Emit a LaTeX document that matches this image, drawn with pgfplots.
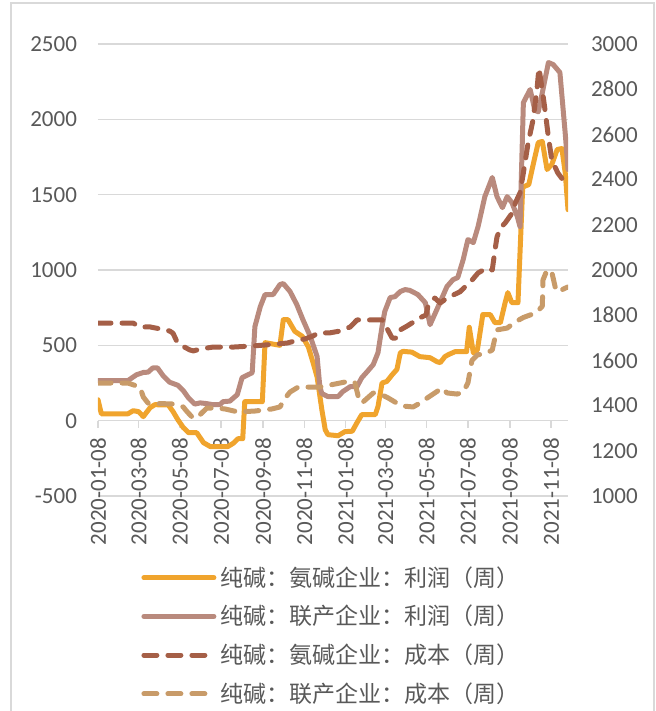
\documentclass[border=0pt]{standalone}
\usepackage{pgfplots}
\pgfplotsset{compat=1.18}
\usepackage{fontspec}
\setmainfont{Carlito}
\newfontfamily\cjk{Noto Sans CJK SC}

\definecolor{ammprofit}{HTML}{F0A42D}
\definecolor{coprofit}{HTML}{B98A7D}
\definecolor{ammcost}{HTML}{A55F47}
\definecolor{cocost}{HTML}{C89B69}
\definecolor{gridgray}{HTML}{D9D9D9}
\definecolor{labelgray}{HTML}{595959}

% x = days since 2020-01-08
\pgfplotsset{
  base/.style={
    scale only axis, width=235pt, height=226pt,
    xmin=0, xmax=695,
    tick label style={font=\fontsize{11.5}{13}\selectfont, text=labelgray},
    /pgf/number format/assume math mode=true,
    /pgf/number format/1000 sep={},
  },
  sline/.style={line width=2.5pt, line join=round, line cap=round},
  dline/.style={line width=2.5pt, line join=round, line cap=round, dash pattern=on 6.5pt off 5.5pt},
}

\begin{document}
\begin{tikzpicture}
\path[use as bounding box] (-49pt,-107.5pt) rectangle (279pt,248pt);
\draw[gridgray, line width=0.8pt] (-43.5pt,-120pt) -- (-43.5pt,246.5pt) -- (278pt,246.5pt) -- (278pt,-120pt);

\begin{axis}[base,
  ymin=-500, ymax=2500, ytick={-500,0,...,2500},
  axis x line*=middle, axis y line*=left,
  hide obscured x ticks=false,
  y axis line style={draw=none}, ytick style={draw=none},
  x axis line style={-, draw=gridgray, line width=0.75pt},
  ymajorgrids, grid style={gridgray, line width=0.75pt},
  xtick={0,60,121,182,244,305,366,425,486,547,609,670},
  xticklabels={2020-01-08,2020-03-08,2020-05-08,2020-07-08,2020-09-08,2020-11-08,
    2021-01-08,2021-03-08,2021-05-08,2021-07-08,2021-09-08,2021-11-08},
  xtick align=outside, major tick length=3.5pt,
  xtick style={draw=gridgray, line width=0.75pt},
  xticklabel style={rotate=90, anchor=east},
  xticklabel shift=1.5pt,
  yticklabel style={anchor=east, xshift=-7pt},
]
\addplot[sline, ammprofit] coordinates {
(0,139) (5,45) (44,45) (52,66) (60,60) (67,27) (77,86) (84,106) (104,104) (111,60)
(118,7) (126,-45) (134,-80) (146,-80) (156,-146) (166,-172) (192,-172) (200,-150)
(207,-120) (214,-120) (217,126) (243,126) (247,518) (269,500) (274,670) (281,670)
(291,593) (302,560) (311,490) (318,385) (324,290) (331,73) (336,-60) (340,-93)
(355,-100) (365,-73) (376,-70) (383,-13) (390,40) (410,40) (414,93) (420,250)
(427,260) (435,305) (442,340) (447,450) (451,460) (464,455) (476,425) (491,418)
(501,392) (506,385) (513,425) (518,438) (528,458) (545,458) (549,620) (555,450)
(561,470) (569,704) (580,704) (587,650) (595,650) (602,783) (606,850) (612,783)
(621,783) (628,1550) (637,1567) (643,1690) (651,1846) (657,1853) (664,1667)
(671,1700) (679,1800) (686,1806) (691,1640) (695,1400)
};
\addplot[sline, coprofit] coordinates {
(0,265) (44,265) (57,305) (67,320) (74,322) (81,350) (88,350) (96,300) (106,255)
(118,235) (126,200) (134,150) (143,110) (151,118) (161,113) (170,106) (180,106)
(185,126) (195,130) (206,173) (213,285) (222,305) (228,318) (232,624) (240,757)
(247,837) (259,837) (269,903) (274,910) (284,857) (294,770) (303,670) (314,558)
(324,425) (328,226) (331,180) (340,160) (355,160) (362,193) (373,226) (383,226)
(390,285) (398,325) (407,372) (414,451) (420,624) (424,724) (432,817) (439,823)
(447,857) (454,870) (461,865) (473,837) (484,783) (491,637) (501,737) (516,890)
(525,936) (532,950) (540,1069) (547,1202) (555,1182) (562,1288) (572,1487)
(583,1614) (590,1487) (598,1414) (605,1487) (612,1448) (620,1355) (624,1288)
(629,2111) (639,2198) (646,2060) (651,2050) (658,2198) (666,2377) (673,2364)
(683,2311) (691,1900) (695,1667)
};
\end{axis}

\begin{axis}[base,
  ymin=1000, ymax=3000, ytick={1000,1200,...,3000},
  axis y line*=right, axis x line=none,
  y axis line style={draw=none}, ytick style={draw=none},
  yticklabel style={anchor=west, xshift=8pt},
  legend cell align=left,
  legend image code/.code={\draw[#1] (0pt,0pt) -- (35pt,0pt);},
  legend style={at={(axis description cs:0.0915,0)}, anchor=north west,
    yshift=-33pt, draw=none, fill=none, inner sep=0pt, row sep=4pt,
    font=\cjk\fontsize{11.5}{13}\selectfont, text=labelgray},
]
\addlegendimage{sline, ammprofit}
\addlegendentry{纯碱：氨碱企业：利润（周）}
\addlegendimage{sline, coprofit}
\addlegendentry{纯碱：联产企业：利润（周）}
\addplot[dline, ammcost] coordinates {
(0,1765) (52,1765) (62,1748) (77,1748) (96,1737) (106,1730) (111,1720) (117,1681)
(124,1665) (136,1646) (141,1642) (151,1650) (170,1659) (200,1659) (229,1664)
(259,1671) (280,1677) (291,1686) (306,1695) (318,1708) (325,1721) (343,1722)
(358,1730) (373,1748) (383,1779) (420,1779) (424,1770) (427,1743) (435,1699)
(442,1699) (447,1735) (457,1752) (476,1788) (485,1801) (488,1840) (498,1876)
(506,1854) (516,1876) (525,1889) (535,1903) (546,1935) (553,1955) (562,1987)
(575,2009) (583,2000) (587,2088) (590,2146) (595,2186) (602,2208) (612,2250)
(617,2296) (624,2341) (629,2430) (636,2562) (643,2660) (649,2796) (652,2894)
(657,2796) (661,2708) (666,2588) (671,2487) (680,2429) (691,2385)
};
\addlegendentry{纯碱：氨碱企业：成本（周）}
\addplot[dline, cocost] coordinates {
(0,1500) (44,1500) (62,1482) (67,1438) (74,1411) (111,1407) (121,1398) (126,1394)
(132,1372) (139,1350) (146,1345) (155,1372) (161,1389) (176,1389) (188,1385)
(207,1372) (232,1376) (257,1385) (269,1394) (277,1434) (284,1460) (296,1482)
(328,1482) (343,1491) (358,1500) (373,1509) (380,1500) (385,1438) (390,1411)
(407,1456) (420,1447) (429,1434) (439,1416) (451,1398) (466,1394) (476,1411)
(487,1434) (498,1456) (509,1478) (516,1456) (531,1451) (540,1460) (547,1500)
(553,1600) (561,1624) (575,1633) (583,1646) (587,1700) (590,1735) (605,1743)
(617,1770) (629,1790) (639,1801) (649,1814) (657,1840) (658,1956) (664,2000)
(671,1991) (676,1925) (680,1903) (691,1920) (695,1925)
};
\addlegendentry{纯碱：联产企业：成本（周）}
\end{axis}
\end{tikzpicture}
\end{document}
